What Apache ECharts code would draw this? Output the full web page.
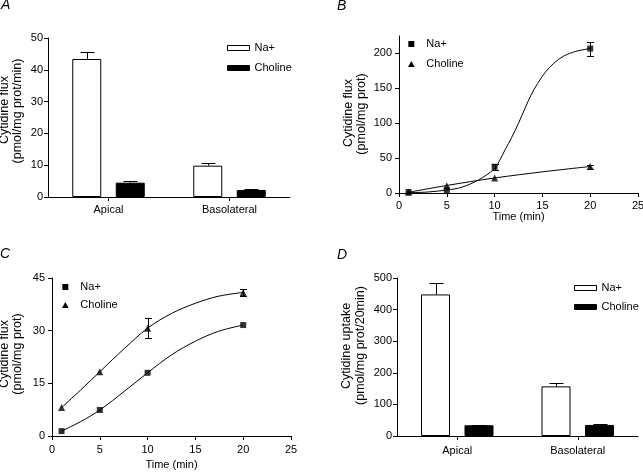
<!DOCTYPE html>
<html>
<head>
<meta charset="utf-8">
<script src="https://cdn.jsdelivr.net/npm/echarts@6/dist/echarts.min.js"></script>
<style>
  html, body { margin: 0; padding: 0; background: #fff; }
  #main { width: 643px; height: 472px; }
</style>
</head>
<body>
<div id="main"></div>
<script>
// panel A / D categories
const barCats = ['Apical', 'Basolateral'];

// A: cytidine flux (pmol/mg prot/min)
const fluxNa = [43.4, 9.85];
const fluxNaErr = [2.2, 0.7];
const fluxCho = [4.5, 2.2];
const fluxChoErr = [0.4, 0.3];

// D: cytidine uptake (pmol/mg prot/20min)
const uptakeNa = [448, 157];
const uptakeNaErr = [37, 10];
const uptakeCho = [34, 35];
const uptakeChoErr = [1.5, 2.5];

// B: time course
const timeB = [1, 5, 10, 20];
const naB = [1.5, 4, 37.6, 207];
const naBErr = [0, 0, 4, 10];
const choB = [1, 10.5, 21.5, 37.8];
const choBErr = [0, 0, 0, 3];
const naBFitX = [1, 3, 5, 6.5, 8.3, 10, 10.5, 11.1, 11.8, 12.5, 13.2, 13.8, 14.5, 15.3, 16.2, 17.2, 18.5, 20];
const naBFitY = [0.5, 1.4, 4.3, 8, 18.6, 35, 46, 62, 80, 100, 122, 140, 157, 173, 186, 196, 203, 207];
const choBFitX = [1, 5, 10, 15, 20];
const choBFitY = [1, 10.8, 21.5, 30.3, 38];

// C: time course
const timeC = [1, 5, 10, 20];
const naC = [1.4, 7.4, 18, 31.6];
const naCErr = [0, 0, 0, 0];
const choC = [8.1, 18.3, 30.7, 40.9];
const choCErr = [0, 0, 2.8, 1.0];
const naCFitX = [1, 3, 5, 7.6, 10, 12.5, 15, 17.4, 20];
const naCFitY = [1.4, 4.1, 7.4, 12.8, 18, 23.1, 27.0, 29.8, 31.6];
const choCFitX = [1, 3, 5, 7.6, 10, 12.5, 15, 17.4, 20];
const choCFitY = [8.1, 13.1, 18.3, 25, 30.7, 34.9, 37.8, 39.8, 40.9];

const bTicks = [0, 50, 100, 150, 200];

const FONT = '"Liberation Sans", Arial, Helvetica, sans-serif';
const BAR_W = 29;
const squareIcon = 'path://M0,0H10V10H0Z';
const triIcon = 'path://M5,0L10,9L0,9Z';

function zip(a, b, c) {
    return a.map((v, i) => c ? [v, b[i], c[i]] : [v, b[i]]);
}

const lineStyle = { stroke: '#000', lineWidth: 1 };

// error bar above a grouped bar (offset in px from category centre)
function barErr(offset) {
    return function (params, api) {
        const base = api.coord([api.value(0), api.value(1)]);
        const top = api.coord([api.value(0), api.value(1) + api.value(2)]);
        const x = Math.round(base[0] + offset) + 0.5;
        const yt = Math.round(top[1]) + 0.5;
        return {
            type: 'group', children: [
                { type: 'line', shape: { x1: x, y1: base[1], x2: x, y2: yt }, style: lineStyle },
                { type: 'line', shape: { x1: x - 7, y1: yt, x2: x + 7, y2: yt }, style: lineStyle }
            ]
        };
    };
}

// symmetric error bar on a point
function pointErr(params, api) {
    const e = api.value(2);
    if (!e) return null;
    const lo = api.coord([api.value(0), api.value(1) - e]);
    const hi = api.coord([api.value(0), api.value(1) + e]);
    const x = Math.round(lo[0]) + 0.5;
    const y1 = Math.round(lo[1]) + 0.5, y2 = Math.round(hi[1]) + 0.5;
    return {
        type: 'group', children: [
            { type: 'line', shape: { x1: x, y1: y1, x2: x, y2: y2 }, style: lineStyle },
            { type: 'line', shape: { x1: x - 3.5, y1: y1, x2: x + 3.5, y2: y1 }, style: lineStyle },
            { type: 'line', shape: { x1: x - 3.5, y1: y2, x2: x + 3.5, y2: y2 }, style: lineStyle }
        ]
    };
}

const axisCommon = {
    axisLine: { show: true, lineStyle: { color: '#000', width: 1 } },
    axisTick: { show: true, length: 4, lineStyle: { color: '#000', width: 1 } },
    splitLine: { show: false }
};

function yAxis(grid, max, interval, margin, extra) {
    return Object.assign({
        gridIndex: grid, type: 'value', min: 0, max: max, interval: interval,
        axisLabel: { color: '#000', fontSize: 11, margin: margin, fontFamily: FONT }
    }, axisCommon, extra || {});
}

function catAxis(grid, margin) {
    return Object.assign({
        gridIndex: grid, type: 'category', data: barCats,
        axisLabel: { color: '#000', fontSize: 11, margin: margin, interval: 0, fontFamily: FONT }
    }, axisCommon, {
        axisTick: { show: true, length: 4, alignWithLabel: true, interval: 0, lineStyle: { color: '#000' } }
    });
}

function timeAxis(grid, margin, gap) {
    return Object.assign({
        gridIndex: grid, type: 'value', min: 0, max: 25, interval: 5,
        name: 'Time (min)', nameLocation: 'middle', nameGap: gap,
        nameTextStyle: { color: '#000', fontSize: 11, fontFamily: FONT },
        axisLabel: { color: '#000', fontSize: 11, margin: margin, fontFamily: FONT }
    }, axisCommon);
}

function barSeries(name, data, idx, white) {
    return {
        type: 'bar', name: name, xAxisIndex: idx, yAxisIndex: idx, data: data,
        barWidth: BAR_W, barGap: '50%',
        itemStyle: white ? { color: '#fff', borderColor: '#000', borderWidth: 1 } : { color: '#000', borderColor: '#000', borderWidth: 1 }
    };
}

function barErrSeries(vals, errs, idx, offset) {
    return {
        type: 'custom', name: 'err' + idx + offset, xAxisIndex: idx, yAxisIndex: idx, z: 3,
        renderItem: barErr(offset), encode: { x: 0, y: 1 },
        data: vals.map((v, i) => [i, v, errs[i]])
    };
}

function scatterSeries(name, xs, ys, idx, symbol, size) {
    return {
        type: 'scatter', name: name, xAxisIndex: idx, yAxisIndex: idx, z: 4,
        symbol: symbol, symbolSize: size, itemStyle: { color: '#000' },
        data: zip(xs, ys)
    };
}

function fitSeries(name, xs, ys, idx) {
    return {
        type: 'line', name: name, xAxisIndex: idx, yAxisIndex: idx, z: 2,
        showSymbol: false, smooth: 0.35,
        lineStyle: { color: '#000', width: 1 },
        data: zip(xs, ys)
    };
}

function ptErrSeries(xs, ys, es, idx, tag) {
    return {
        type: 'custom', name: 'perr' + idx + tag, xAxisIndex: idx, yAxisIndex: idx, z: 3,
        renderItem: pointErr, encode: { x: 0, y: 1 },
        data: zip(xs, ys, es)
    };
}

function panelTitle(t, left, top) {
    return {
        text: t, left: left, top: top, padding: 0,
        textStyle: { fontSize: 14, fontStyle: 'italic', fontWeight: 'normal', color: '#000', fontFamily: FONT }
    };
}

// rotated two-line y axis titles
function yTitle(text, x, y) {
    return {
        type: 'text', x: x, y: y, rotation: Math.PI / 2, silent: true,
        style: { text: text, fontSize: 12.5, fontFamily: FONT, fill: '#000', align: 'center', verticalAlign: 'middle' }
    };
}

const barLegendData = [
    { name: 'Na+', icon: 'rect', itemStyle: { color: '#fff', borderColor: '#000', borderWidth: 1 } },
    { name: 'Choline', icon: 'rect', itemStyle: { color: '#000', borderColor: '#000', borderWidth: 1 } }
];
const markLegendData = [
    { name: 'Na+', icon: squareIcon, itemStyle: { color: '#000', borderWidth: 0 } },
    { name: 'Choline', icon: triIcon, itemStyle: { color: '#000', borderWidth: 0 } }
];

function legend(data, left, top, w, h, gap) {
    return {
        data: data, left: left, top: top, orient: 'vertical', padding: 0,
        itemWidth: w, itemHeight: h, itemGap: gap, selectedMode: false, symbolKeepAspect: true,
        textStyle: { color: '#000', fontSize: 11, fontFamily: FONT }
    };
}

const chart = echarts.init(document.getElementById('main'), null, { renderer: 'canvas' });

chart.setOption({
    animation: false,
    backgroundColor: '#fff',
    textStyle: { fontFamily: FONT },
    title: [
        panelTitle('A', 1, -2),
        panelTitle('B', 337, -1),
        panelTitle('C', 0, 247),
        panelTitle('D', 337, 248)
    ],
    graphic: [
        yTitle('Cytidine flux', 4.5, 110),
        yTitle('(pmol/mg prot/min)', 17.5, 111),
        yTitle('Cytidine flux', 348.5, 113),
        yTitle('(pmol/mg prot)', 362, 114),
        yTitle('Cytidine flux', 4.5, 354),
        yTitle('(pmol/mg prot)', 17.5, 354),
        yTitle('Cytidine uptake', 346.5, 346),
        yTitle('(pmol/mg prot/20min)', 360.5, 345.5)
    ],
    legend: [
        legend(barLegendData, 227, 42.5, 22, 5, 9),
        legend(markLegendData, 408, 38.5, 20, 6, 9),
        legend(markLegendData, 62, 281.5, 20, 6, 7),
        legend(barLegendData, 574, 282.5, 22, 5, 8)
    ],
    grid: [
        { left: 48, top: 38, width: 242, height: 159, outerBoundsMode: 'none', containLabel: false },
        { left: 399, top: 36, width: 239, height: 157, outerBoundsMode: 'none', containLabel: false },
        { left: 52, top: 278, width: 239, height: 158, outerBoundsMode: 'none', containLabel: false },
        { left: 397, top: 278, width: 241, height: 158, outerBoundsMode: 'none', containLabel: false }
    ],
    xAxis: [
        catAxis(0, 7),
        timeAxis(1, 7, 17),
        timeAxis(2, 8, 23.5),
        catAxis(3, 9.5)
    ],
    yAxis: [
        yAxis(0, 50, 10, 5),
        yAxis(1, 225, 25, 7, {
            axisLabel: { color: '#000', fontSize: 11, margin: 7, fontFamily: FONT, customValues: bTicks },
            axisTick: { show: true, length: 4, lineStyle: { color: '#000' }, customValues: bTicks }
        }),
        yAxis(2, 45, 15, 7),
        yAxis(3, 500, 100, 5)
    ],
    series: [
        // A
        barSeries('Na+', fluxNa, 0, true),
        barSeries('Choline', fluxCho, 0, false),
        barErrSeries(fluxNa, fluxNaErr, 0, -(BAR_W * 1.5) / 2),
        barErrSeries(fluxCho, fluxChoErr, 0, (BAR_W * 1.5) / 2),
        // B
        fitSeries('Na+ fit B', naBFitX, naBFitY, 1),
        fitSeries('Choline fit B', choBFitX, choBFitY, 1),
        ptErrSeries(timeB, naB, naBErr, 1, 'na'),
        ptErrSeries(timeB, choB, choBErr, 1, 'cho'),
        scatterSeries('Na+', timeB, naB, 1, 'rect', 6),
        scatterSeries('Choline', timeB, choB, 1, 'triangle', 7),
        // C
        fitSeries('Na+ fit C', naCFitX, naCFitY, 2),
        fitSeries('Choline fit C', choCFitX, choCFitY, 2),
        ptErrSeries(timeC, naC, naCErr, 2, 'na'),
        ptErrSeries(timeC, choC, choCErr, 2, 'cho'),
        scatterSeries('Na+', timeC, naC, 2, 'rect', 6),
        scatterSeries('Choline', timeC, choC, 2, 'triangle', 7),
        // D
        barSeries('Na+', uptakeNa, 3, true),
        barSeries('Choline', uptakeCho, 3, false),
        barErrSeries(uptakeNa, uptakeNaErr, 3, -(BAR_W * 1.5) / 2),
        barErrSeries(uptakeCho, uptakeChoErr, 3, (BAR_W * 1.5) / 2)
    ]
});
</script>
</body>
</html>
